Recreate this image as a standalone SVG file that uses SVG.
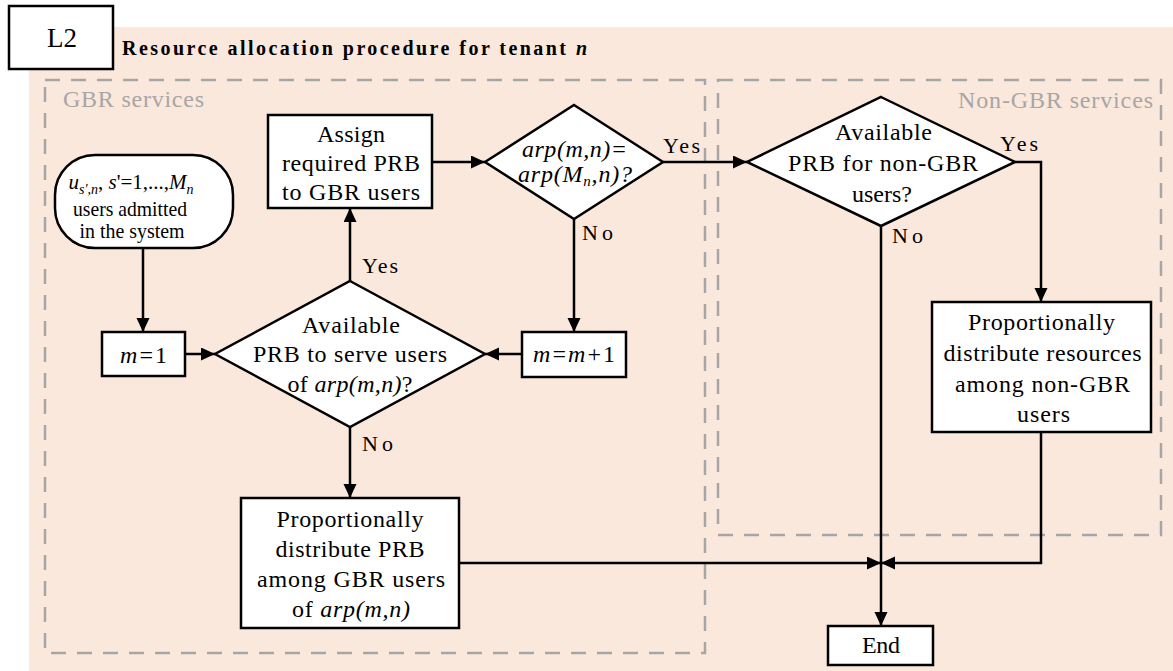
<svg xmlns="http://www.w3.org/2000/svg" width="1173" height="671" viewBox="0 0 1173 671">
  <defs>
    <style>
      text { font-family: "Liberation Serif", "Times New Roman", serif; }
      .t { font-size: 24px; fill: #000; text-anchor: middle; }
      .lbl { font-size: 22px; fill: #000; }
      .i { font-style: italic; }
      .grp { font-size: 24px; fill: #a6a6a6; }
      .node { fill: #fff; stroke: #000; stroke-width: 2.5; }
      .dash { fill: none; stroke: #a6a6a6; stroke-width: 2.5; stroke-dasharray: 15 11; }
      .conn { fill: none; stroke: #000; stroke-width: 2.5; }
    </style>
    <marker id="arrow" markerUnits="userSpaceOnUse" markerWidth="15" markerHeight="14" refX="14" refY="6.5" orient="auto">
      <path d="M0,0 L14,6.5 L0,13 z" fill="#000"/>
    </marker>
  </defs>

  <!-- background -->
  <rect x="29" y="27" width="1144" height="644" fill="#fbe8dc"/>

  <!-- header -->
  <g id="header">
    <rect x="9" y="6" width="104" height="63" fill="#fff" stroke="#000" stroke-width="2.5"/>
    <text x="62" y="47" font-size="27" text-anchor="middle">L2</text>
    <text x="122" y="55" font-size="20" font-weight="bold" textLength="444" lengthAdjust="spacing">Resource allocation procedure for tenant</text>
    <text x="576" y="55" font-size="20" font-weight="bold" font-style="italic">n</text>
  </g>

  <!-- service regions -->
  <g id="gbr-region">
    <rect class="dash" x="45" y="80" width="660" height="573"/>
    <text class="grp" x="63" y="107" textLength="141" lengthAdjust="spacing">GBR services</text>
  </g>
  <g id="nongbr-region">
    <rect class="dash" x="718" y="80" width="443" height="455"/>
    <text class="grp" x="958" y="108" textLength="195" lengthAdjust="spacing">Non-GBR services</text>
  </g>

  <!-- connectors -->
  <g id="connectors">
    <path class="conn" d="M143,249 L143,332" marker-end="url(#arrow)"/>
    <path class="conn" d="M185,354 L215,354" marker-end="url(#arrow)"/>
    <path class="conn" d="M350,281 L350,208" marker-end="url(#arrow)"/>
    <path class="conn" d="M432,162 L485,162" marker-end="url(#arrow)"/>
    <path class="conn" d="M663,162 L747,162" marker-end="url(#arrow)"/>
    <path class="conn" d="M574,219 L574,332" marker-end="url(#arrow)"/>
    <path class="conn" d="M522,354 L485,354" marker-end="url(#arrow)"/>
    <path class="conn" d="M350,427 L350,498" marker-end="url(#arrow)"/>
    <path class="conn" d="M459,563 L881,563" marker-end="url(#arrow)"/>
    <path class="conn" d="M1015,162 L1041,162 L1041,302" marker-end="url(#arrow)"/>
    <path class="conn" d="M881,226 L881,626" marker-end="url(#arrow)"/>
    <path class="conn" d="M1041,432 L1041,563 L881,563" marker-end="url(#arrow)"/>
    <text class="lbl" x="362" y="273" textLength="36" lengthAdjust="spacing">Yes</text>
    <text class="lbl" x="362" y="451" textLength="31" lengthAdjust="spacing">No</text>
    <text class="lbl" x="663" y="153" textLength="37" lengthAdjust="spacing">Yes</text>
    <text class="lbl" x="582" y="240" textLength="31" lengthAdjust="spacing">No</text>
    <text class="lbl" x="1000" y="151" textLength="38" lengthAdjust="spacing">Yes</text>
    <text class="lbl" x="892" y="243" textLength="31" lengthAdjust="spacing">No</text>
  </g>

  <!-- nodes -->
  <g id="start">
    <rect class="node" x="55" y="155" width="178" height="93" rx="40" ry="40"/>
    <text x="131" y="189" font-size="21" text-anchor="middle"><tspan class="i">u</tspan><tspan class="i" font-size="14" dy="5">s',n</tspan><tspan dy="-5">, </tspan><tspan class="i">s</tspan>'=1,...,<tspan class="i">M</tspan><tspan class="i" font-size="14" dy="5">n</tspan></text>
    <text x="130" y="216" font-size="21" text-anchor="middle" textLength="114" lengthAdjust="spacingAndGlyphs">users admitted</text>
    <text x="132" y="238" font-size="21" text-anchor="middle" textLength="105" lengthAdjust="spacingAndGlyphs">in the system</text>
  </g>

  <g id="m-init">
    <rect class="node" x="102" y="332" width="83" height="44"/>
    <text class="t" x="143.5" y="363" textLength="47" lengthAdjust="spacing"><tspan class="i">m</tspan>=1</text>
  </g>

  <g id="check-gbr">
    <polygon class="node" points="350,281 485,354 350,427 215,354"/>
    <text class="t" x="351" y="333" textLength="98" lengthAdjust="spacing">Available</text>
    <text class="t" x="350" y="362" textLength="194" lengthAdjust="spacing">PRB to serve users</text>
    <text class="t" x="350" y="392" textLength="125" lengthAdjust="spacing">of <tspan class="i">arp(m,n)</tspan>?</text>
  </g>

  <g id="assign">
    <rect class="node" x="268" y="115" width="164" height="93"/>
    <text class="t" x="351" y="142" textLength="68" lengthAdjust="spacing">Assign</text>
    <text class="t" x="351" y="171" textLength="138" lengthAdjust="spacing">required PRB</text>
    <text class="t" x="351" y="200" textLength="138" lengthAdjust="spacing">to GBR users</text>
  </g>

  <g id="check-last">
    <polygon class="node" points="574,105 663,162 574,219 485,162"/>
    <text class="t i" x="574.5" y="157" textLength="105" lengthAdjust="spacing">arp(m,n)=</text>
    <text class="t i" x="575" y="182" textLength="114" lengthAdjust="spacing">arp(M<tspan font-size="15" dy="4">n</tspan><tspan dy="-4">,n)?</tspan></text>
  </g>

  <g id="m-inc">
    <rect class="node" x="522" y="332" width="104" height="45"/>
    <text class="t" x="574" y="362" textLength="82" lengthAdjust="spacing"><tspan class="i">m</tspan>=<tspan class="i">m</tspan>+1</text>
  </g>

  <g id="gbr-prop">
    <rect class="node" x="241" y="498" width="218" height="130"/>
    <text class="t" x="350" y="527" textLength="147" lengthAdjust="spacing">Proportionally</text>
    <text class="t" x="350" y="557" textLength="149" lengthAdjust="spacing">distribute PRB</text>
    <text class="t" x="351" y="587" textLength="188" lengthAdjust="spacing">among GBR users</text>
    <text class="t" x="351" y="617" textLength="118" lengthAdjust="spacing">of <tspan class="i">arp(m,n)</tspan></text>
  </g>

  <g id="check-nongbr">
    <polygon class="node" points="881,97 1015,162 881,226 747,162"/>
    <text class="t" x="883.5" y="140" textLength="97" lengthAdjust="spacing">Available</text>
    <text class="t" x="883" y="171" textLength="190" lengthAdjust="spacing">PRB for non-GBR</text>
    <text class="t" x="882" y="202" textLength="60" lengthAdjust="spacing">users?</text>
  </g>

  <g id="nongbr-prop">
    <rect class="node" x="932" y="302" width="219" height="130"/>
    <text class="t" x="1041.5" y="330" textLength="147" lengthAdjust="spacing">Proportionally</text>
    <text class="t" x="1042.5" y="361" textLength="198" lengthAdjust="spacing">distribute resources</text>
    <text class="t" x="1042.5" y="392" textLength="175" lengthAdjust="spacing">among non-GBR</text>
    <text class="t" x="1043.5" y="422" textLength="53" lengthAdjust="spacing">users</text>
  </g>

  <g id="end">
    <rect class="node" x="828" y="626" width="105" height="39"/>
    <text class="t" x="881" y="653" textLength="38" lengthAdjust="spacing">End</text>
  </g>
</svg>
